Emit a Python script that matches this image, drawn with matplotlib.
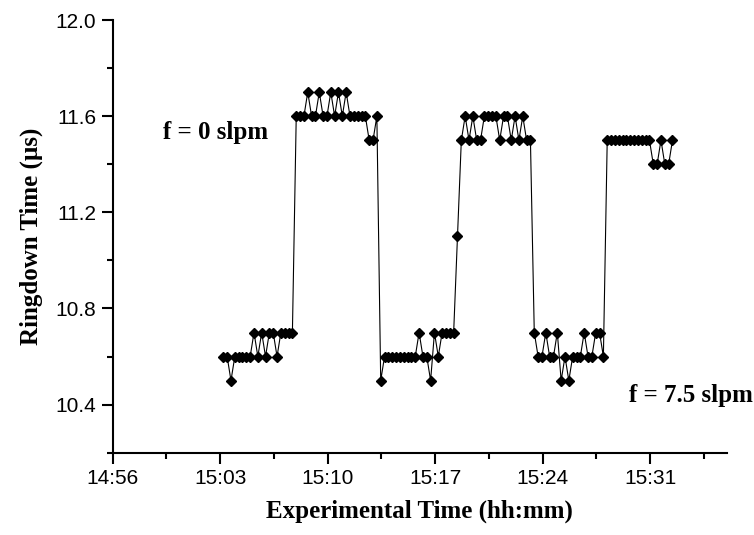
import matplotlib
matplotlib.use("Agg")
import matplotlib.pyplot as plt
import matplotlib.dates as mdates
import pandas as pd

# ringdown time readings, one every 15 s from 15:03:12
seg_a = [10.6, 10.6, 10.5, 10.6, 10.6, 10.6, 10.6, 10.6, 10.7, 10.6, 10.7, 10.6, 10.7, 10.7,
         10.6, 10.7, 10.7, 10.7, 10.7]
seg_b = [11.6, 11.6, 11.6, 11.7, 11.6, 11.6, 11.7, 11.6, 11.6, 11.7, 11.6, 11.7, 11.6, 11.7,
         11.6, 11.6, 11.6, 11.6, 11.6, 11.5, 11.5, 11.6]
seg_c = [10.5, 10.6, 10.6, 10.6, 10.6, 10.6, 10.6, 10.6, 10.6, 10.6, 10.7, 10.6, 10.6, 10.5,
         10.7, 10.6, 10.7, 10.7, 10.7, 10.7, 11.1]
seg_d = [11.5, 11.6, 11.5, 11.6, 11.5, 11.5, 11.6, 11.6, 11.6, 11.6, 11.5, 11.6, 11.6, 11.5,
         11.6, 11.5, 11.6, 11.5, 11.5]
seg_e = [10.7, 10.6, 10.6, 10.7, 10.6, 10.6, 10.7, 10.5, 10.6, 10.5, 10.6, 10.6, 10.6, 10.7,
         10.6, 10.6, 10.7, 10.7, 10.6]
seg_f = [11.5, 11.5, 11.5, 11.5, 11.5, 11.5, 11.5, 11.5, 11.5, 11.5, 11.5, 11.5, 11.4, 11.4,
         11.5, 11.4, 11.4, 11.5]

ringdown = seg_a + seg_b + seg_c + seg_d + seg_e + seg_f
times = pd.date_range("2000-01-01 15:03:12", periods=len(ringdown), freq="15s")

major_times = pd.date_range("2000-01-01 14:56", periods=6, freq="7min")
minor_times = pd.date_range("2000-01-01 14:59:30", periods=6, freq="7min")
y_major = [10.4, 10.8, 11.2, 11.6, 12.0]
y_minor = [10.2, 10.6, 11.0, 11.4, 11.8]

plt.rcParams['font.family'] = ['Liberation Sans', 'DejaVu Sans']
serif_bold = dict(family=['Liberation Serif', 'DejaVu Serif'], weight='bold')

fig = plt.figure(figsize=(7.54, 5.35), dpi=100)
ax = fig.add_axes([0.1495, 0.1538, 0.8147, 0.8088])

ax.plot(times, ringdown, color='black', linewidth=0.8, marker='D',
        markersize=5.2, markerfacecolor='black', markeredgecolor='black')

ax.set_xlim(pd.Timestamp("2000-01-01 14:56"), pd.Timestamp("2000-01-01 15:36"))
ax.set_ylim(10.2, 12.0)
ax.set_xticks(major_times)
ax.set_xticks(minor_times, minor=True)
ax.xaxis.set_major_formatter(mdates.DateFormatter('%H:%M'))
ax.set_yticks(y_major)
ax.set_yticks(y_minor, minor=True)
ax.yaxis.set_major_formatter(matplotlib.ticker.FormatStrFormatter('%.1f'))

for s in ['top', 'right']:
    ax.spines[s].set_visible(False)
for s in ['left', 'bottom']:
    ax.spines[s].set_linewidth(1.5)
ax.tick_params(which='major', direction='out', length=8, width=1.5, labelsize=15, pad=4)
ax.tick_params(which='minor', direction='out', length=4, width=1.5)

ax.set_xlabel('Experimental Time (hh:mm)', fontsize=18, labelpad=8, **serif_bold)
ax.set_ylabel('Ringdown Time (\u00b5s)', fontsize=18, labelpad=9, **serif_bold)

ax.text(pd.Timestamp("2000-01-01 14:59:18"), 11.53, 'f = 0 slpm', fontsize=18,
        va='center', ha='left', **serif_bold)
ax.text(pd.Timestamp("2000-01-01 15:29:36"), 10.44, 'f = 7.5 slpm', fontsize=18,
        va='center', ha='left', clip_on=False, **serif_bold)

fig.savefig('out.png', dpi=100)
